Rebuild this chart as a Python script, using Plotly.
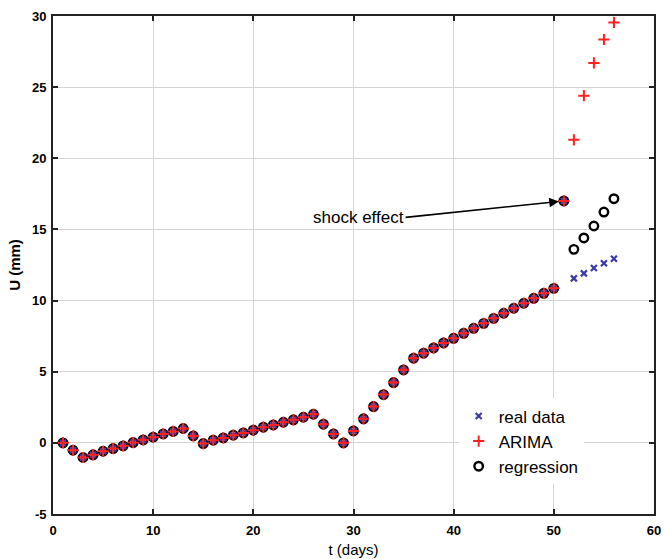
import plotly.graph_objects as go

# Shared historical measurements (days 1-51)
days_hist = list(range(1, 52))
u_hist = [0.0, -0.52, -1.03, -0.84, -0.59, -0.40, -0.21, 0.02, 0.21, 0.40,
          0.63, 0.80, 1.01, 0.49, -0.05, 0.19, 0.35, 0.54, 0.70, 0.89,
          1.10, 1.26, 1.45, 1.62, 1.80, 2.01, 1.31, 0.63, 0.0, 0.84,
          1.69, 2.55, 3.39, 4.24, 5.13, 5.95, 6.30, 6.67, 7.02, 7.35,
          7.70, 8.05, 8.40, 8.75, 9.11, 9.46, 9.81, 10.16, 10.51, 10.86,
          17.0]

# Forecast period (days 52-56)
days_fc = [52, 53, 54, 55, 56]
real_fc = [11.56, 11.91, 12.29, 12.62, 12.94]
arima_fc = [21.3, 24.4, 26.7, 28.35, 29.55]
regr_fc = [13.6, 14.4, 15.24, 16.22, 17.16]

# Tick labels
x_ticks = [0, 10, 20, 30, 40, 50, 60]
y_ticks = [-5, 0, 5, 10, 15, 20, 25, 30]
y_ticktext = ["-5", "0", "5", "10", "15", "20", "25", "30"]

x_all = days_hist + days_fc
font = "Liberation Sans, Arial, sans-serif"

fig = go.Figure()
fig.add_trace(go.Scatter(
    x=x_all, y=u_hist + regr_fc, mode="markers", name="regression",
    marker=dict(symbol="circle-open", size=8.5, color="black", line=dict(width=2.4, color="black")),
))
fig.add_trace(go.Scatter(
    x=x_all, y=u_hist + real_fc, mode="markers", name="real data",
    marker=dict(symbol="x-thin", size=6, color="#3a3aa8", line=dict(width=2.2, color="#3a3aa8")),
))
fig.add_trace(go.Scatter(
    x=x_all, y=u_hist + arima_fc, mode="markers", name="ARIMA",
    marker=dict(symbol="cross-thin", size=8, color="#ff2020", line=dict(width=2, color="#ff2020")),
))

fig.add_annotation(
    x=51, y=17, xref="x", yref="y",
    ax=35.2, ay=15.85, axref="x", ayref="y",
    text="shock effect", showarrow=True, arrowhead=2, arrowsize=1.2, arrowwidth=1.6,
    arrowcolor="black", standoff=5, xanchor="right",
    font=dict(family=font, size=17, color="black"),
)

axis_common = dict(
    showgrid=True, gridcolor="#d4d4d4", gridwidth=1,
    showline=True, linecolor="#222222", linewidth=1.8, mirror="ticks",
    ticks="inside", ticklen=5, tickcolor="#222222", tickwidth=1.5,
    zeroline=False, automargin=False, ticklabeloverflow="allow",
    tickfont=dict(family=font, size=13, color="black", weight="bold"),
)

fig.update_layout(
    width=664, height=559,
    margin=dict(l=53, r=10, t=16, b=45),
    paper_bgcolor="white", plot_bgcolor="white",
    showlegend=True,
    legend=dict(
        x=0.675, y=0.232, xanchor="left", yanchor="top",
        bgcolor="white", borderwidth=0,
        font=dict(family=font, size=17, color="black"),
        traceorder="normal", itemwidth=30, tracegroupgap=0,
    ),
    xaxis=dict(range=[0, 60], tickvals=x_ticks, ticklabelstandoff=3,
               title=dict(text="t (days)", standoff=8, font=dict(family=font, size=15, color="black")),
               **axis_common),
    yaxis=dict(range=[-5, 30], tickvals=y_ticks, ticktext=y_ticktext, ticklabelstandoff=2,
               title=dict(text="<b>U (mm)</b>", standoff=8, font=dict(family=font, size=15, color="black")),
               **axis_common),
)

# legend order: real data, ARIMA, regression
fig.data[0].legendrank = 3
fig.data[1].legendrank = 1
fig.data[2].legendrank = 2

# remove the default page margin so the figure fills the window without scrollbars
fig.write_html(
    "out.html",
    config={"displayModeBar": False},
    post_script="document.body.style.margin='0';document.body.style.overflow='hidden';",
)
